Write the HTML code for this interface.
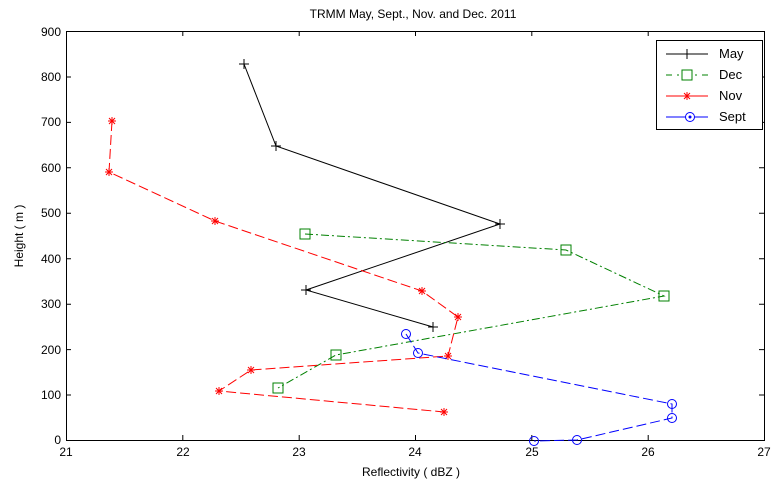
<!DOCTYPE html>
<html><head><style>body{margin:0;background:#fff}svg{display:block}text{font-family:"Liberation Sans",sans-serif;font-size:12px;fill:#000}</style></head>
<body>
<svg width="778" height="484" xmlns="http://www.w3.org/2000/svg">
<rect width="778" height="484" fill="#fff"/>
<rect x="66.5" y="31.5" width="698" height="409" fill="#fff" stroke="#000" stroke-width="1"/>
<g stroke="#000" stroke-width="1">
<path d="M66.5 440v-5M182.8 440v-5M299.2 440v-5M415.5 440v-5M531.8 440v-5M648.2 440v-5M764.5 440v-5"/>
<path d="M66.5 31v5M182.8 31v5M299.2 31v5M415.5 31v5M531.8 31v5M648.2 31v5M764.5 31v5"/>
<path d="M66 440.5h5M66 395h5M66 349.6h5M66 304.2h5M66 258.7h5M66 213.3h5M66 167.8h5M66 122.4h5M66 77h5M66 31.5h5"/>
<path d="M764 395h-5M764 349.6h-5M764 304.2h-5M764 258.7h-5M764 213.3h-5M764 167.8h-5M764 122.4h-5M764 77h-5"/>
</g>
<g text-anchor="middle">
<text x="66" y="456">21</text><text x="183" y="456">22</text><text x="299" y="456">23</text><text x="415" y="456">24</text><text x="532" y="456">25</text><text x="648" y="456">26</text><text x="764" y="456">27</text>
<text x="411" y="476">Reflectivity ( dBZ )</text>
<text x="413" y="18">TRMM May, Sept., Nov. and Dec. 2011</text>
</g>
<g text-anchor="end">
<text x="61" y="444">0</text><text x="61" y="399">100</text><text x="61" y="354">200</text><text x="61" y="308">300</text><text x="61" y="263">400</text><text x="61" y="217">500</text><text x="61" y="172">600</text><text x="61" y="126">700</text><text x="61" y="81">800</text><text x="61" y="36">900</text>
</g>
<text transform="translate(23 236) rotate(-90)" text-anchor="middle">Height ( m )</text>
<!-- May -->
<polyline points="244,64 276,146 500,224 306,290 433,327" fill="none" stroke="#000"/>
<g stroke="#000"><path d="M239 64h10M244 59v10M271 146h10M276 141v10M495 224h10M500 219v10M301 290h10M306 285v10M428 327h10M433 322v10"/></g>
<!-- Dec -->
<polyline points="305,234 566,250 664,296 336,355 278,388" fill="none" stroke="#008000" stroke-dasharray="8,3,2,3"/>
<g fill="none" stroke="#008000"><rect x="300" y="229" width="10" height="10"/><rect x="561" y="245" width="10" height="10"/><rect x="659" y="291" width="10" height="10"/><rect x="331" y="350" width="10" height="10"/><rect x="273" y="383" width="10" height="10"/></g>
<!-- Nov -->
<polyline points="112,121 109,172 215,221 422,291 458,317 448,356 251,370 219,391 444,412" fill="none" stroke="#f00" stroke-dasharray="10,4"/>
<g stroke="#f00" id="st">
<path d="M108 121h8M112 117v8M109 118l6 6M115 118l-6 6"/>
<path d="M105 172h8M109 168v8M106 169l6 6M112 169l-6 6"/>
<path d="M211 221h8M215 217v8M212 218l6 6M218 218l-6 6"/>
<path d="M418 291h8M422 287v8M419 288l6 6M425 288l-6 6"/>
<path d="M454 317h8M458 313v8M455 314l6 6M461 314l-6 6"/>
<path d="M444 356h8M448 352v8M445 353l6 6M451 353l-6 6"/>
<path d="M247 370h8M251 366v8M248 367l6 6M254 367l-6 6"/>
<path d="M215 391h8M219 387v8M216 388l6 6M222 388l-6 6"/>
<path d="M440 412h8M444 408v8M441 409l6 6M447 409l-6 6"/>
</g>
<!-- Sept -->
<polyline points="406,334 418,353 672,404 672,418 577,440 534,441" fill="none" stroke="#00f" stroke-dasharray="10,4"/>
<g fill="none" stroke="#00f"><circle cx="406" cy="334" r="4.5"/><circle cx="418" cy="353" r="4.5"/><circle cx="672" cy="404" r="4.5"/><circle cx="672" cy="418" r="4.5"/><circle cx="577" cy="440" r="4.5"/><circle cx="534" cy="441" r="4.5"/></g>
<!-- Legend -->
<rect x="656.5" y="40.5" width="106" height="89" fill="#fff" stroke="#000"/>
<path d="M666 54h42M687 49v10" stroke="#000"/>
<path d="M666 75h42" stroke="#008000" stroke-dasharray="6,5,2,5"/><rect x="682" y="70" width="10" height="10" fill="#fff" stroke="#008000"/>
<path d="M666 96h42M683 96h8M687 92v8M684 93l6 6M690 93l-6 6" stroke="#f00"/>
<path d="M666 117h42" stroke="#00f"/><circle cx="690" cy="117" r="4.5" fill="#fff" stroke="#00f"/><circle cx="690" cy="117" r="1.5" fill="#00f"/>
<text x="719" y="58" style="font-size:13px">May</text>
<text x="719" y="79" style="font-size:13px">Dec</text>
<text x="719" y="100" style="font-size:13px">Nov</text>
<text x="719" y="121" style="font-size:13px">Sept</text>
</svg>
</body></html>
